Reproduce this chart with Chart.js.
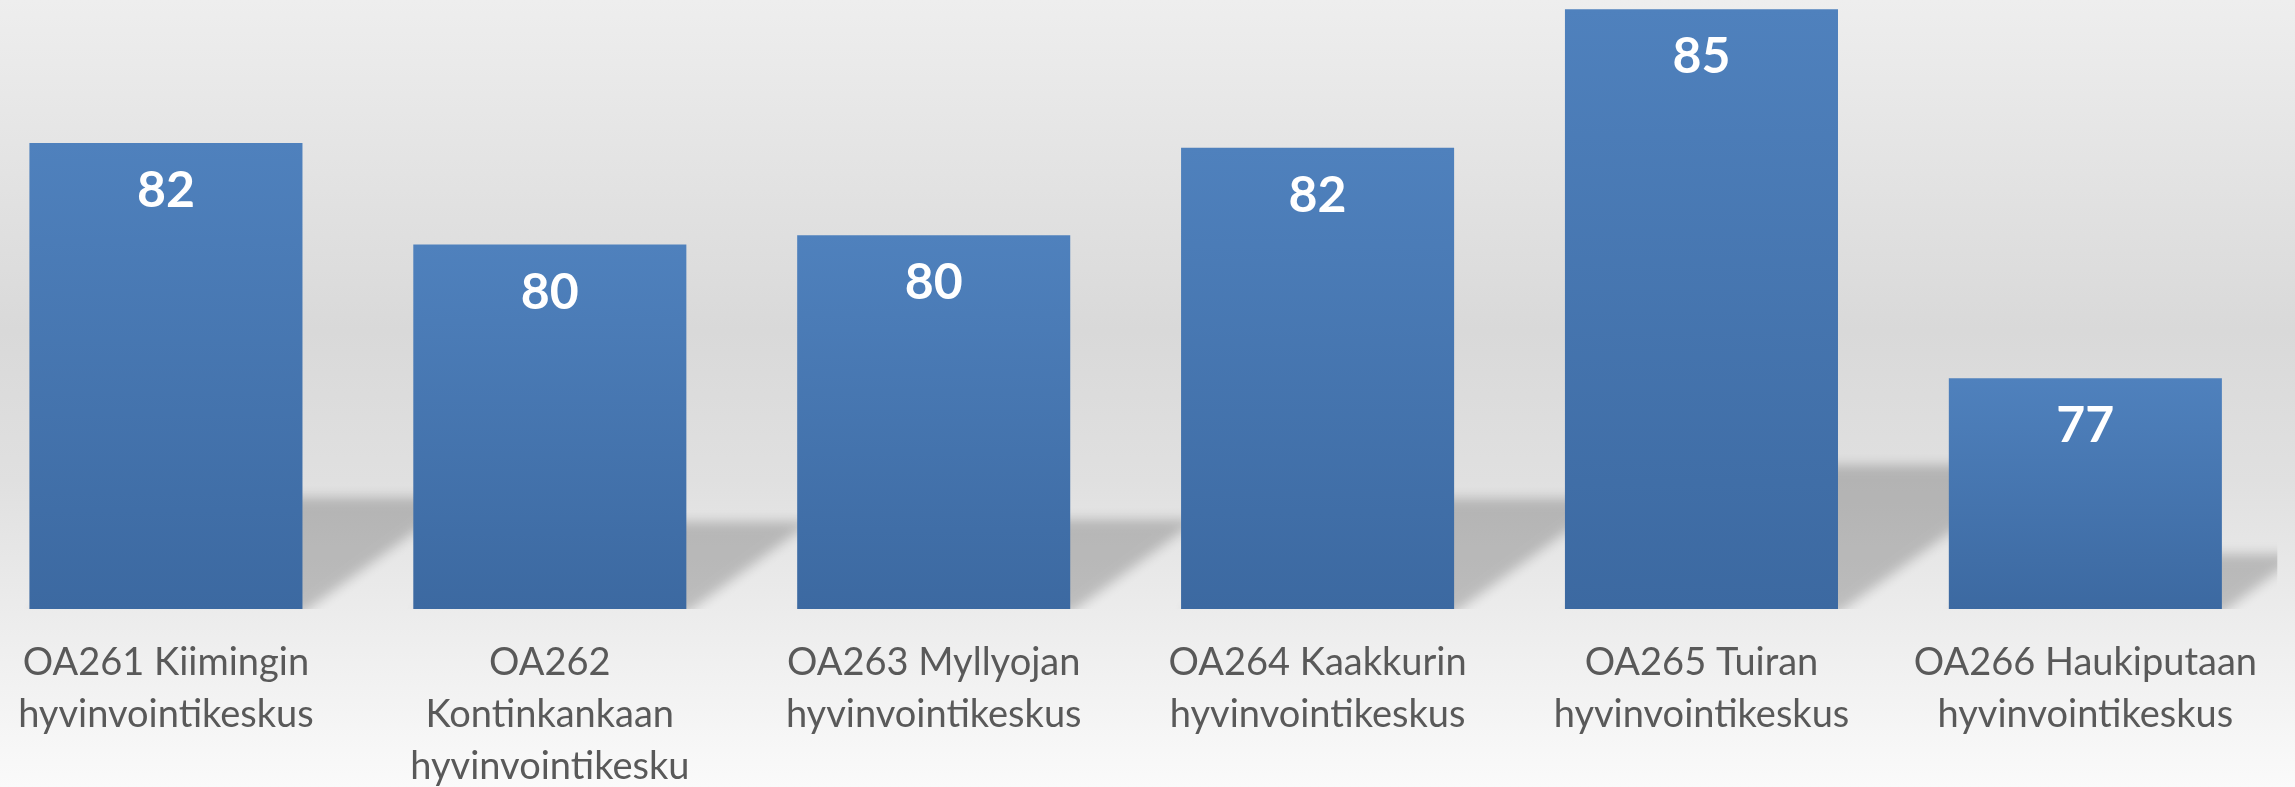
<!DOCTYPE html>
<html>
<head>
<meta charset="utf-8">
<script src="https://cdn.jsdelivr.net/npm/chart.js@4.4.1/dist/chart.umd.min.js"></script>
<style>
  html, body { margin: 0; padding: 0; width: 2295px; height: 787px; overflow: hidden; }
  body {
    position: relative;
    background: linear-gradient(to bottom, #eeeeee 0%, #d9d9d9 42%, #e0e0e0 61%, #ececec 78%, #fafafa 100%);
  }
  #wrap { position: absolute; left: -26px; top: 0; width: 2311px; height: 787px; }
</style>
</head>
<body>
<div id="wrap"><canvas id="scoreChart" width="2311" height="787"></canvas></div>
<script>
// categories (wrapped as in the original)
const categories = [
    ['OA261 Kiimingin', 'hyvinvointikeskus'],
    ['OA262', 'Kontinkankaan', 'hyvinvointikesku'],
    ['OA263 Myllyojan', 'hyvinvointikeskus'],
    ['OA264 Kaakkurin', 'hyvinvointikeskus'],
    ['OA265 Tuiran', 'hyvinvointikeskus'],
    ['OA266 Haukiputaan', 'hyvinvointikeskus']
];
const scores = [82.1, 79.9, 80.1, 82.0, 85.0, 77.0];
const axisMin = 72;
const axisMax = 85.2;

const textGrey = '#595959';

// soft shadow cast behind each bar, towards the upper right
// (drawn through the canvas shadow so the edges get blurred)
const barShadow = {
    id: 'barShadow',
    beforeDatasetsDraw(chart) {
        const ctx = chart.ctx;
        const area = chart.chartArea;
        const meta = chart.getDatasetMeta(0);
        const bottom = chart.scales.y.getPixelForValue(axisMin);
        const shift = 5000;
        ctx.save();
        ctx.beginPath();
        ctx.rect(area.left, area.top, area.right - area.left, area.bottom - area.top);
        ctx.clip();
        ctx.shadowColor = 'rgba(0, 0, 0, 0.2)';
        ctx.shadowBlur = 12;
        ctx.shadowOffsetX = shift;
        ctx.shadowOffsetY = 0;
        ctx.fillStyle = '#000';
        meta.data.forEach(bar => {
            const h = bottom - bar.y;
            const sh = h * 0.24;
            const dx = sh / 0.7;
            const left = bar.x - bar.width / 2 - shift;
            const right = bar.x + bar.width / 2 - shift;
            ctx.beginPath();
            ctx.moveTo(left, bottom + 4);
            ctx.lineTo(right, bottom + 4);
            ctx.lineTo(right + dx, bottom - sh);
            ctx.lineTo(left + dx, bottom - sh);
            ctx.closePath();
            ctx.fill();
        });
        ctx.restore();
    }
};

// white value labels inside the top of each bar
const valueLabels = {
    id: 'valueLabels',
    afterDatasetsDraw(chart) {
        const ctx = chart.ctx;
        const meta = chart.getDatasetMeta(0);
        ctx.save();
        ctx.fillStyle = '#ffffff';
        ctx.font = 'bold 50px Lato';
        ctx.textAlign = 'center';
        ctx.textBaseline = 'middle';
        meta.data.forEach((bar, i) => {
            ctx.fillText(scores[i].toFixed(0), bar.x, bar.y + 48);
        });
        ctx.restore();
    }
};

new Chart(document.getElementById('scoreChart'), {
    type: 'bar',
    data: {
        labels: categories,
        datasets: [
            {
                data: scores,
                backgroundColor: function(context) {
                    const chart = context.chart;
                    if (!chart.chartArea) return '#4676b2';
                    const yScale = chart.scales.y;
                    const top = yScale.getPixelForValue(context.raw);
                    const bottom = yScale.getPixelForValue(axisMin);
                    const g = chart.ctx.createLinearGradient(0, top, 0, bottom);
                    g.addColorStop(0, '#4f81bd');
                    g.addColorStop(1, '#3c69a1');
                    return g;
                },
                borderWidth: 0,
                barPercentage: 0.7113,
                categoryPercentage: 1
            }
        ]
    },
    options: {
        responsive: false,
        animation: false,
        layout: { padding: 0 },
        plugins: {
            legend: { display: false },
            tooltip: { enabled: false }
        },
        scales: {
            y: {
                display: false,
                min: axisMin,
                max: axisMax
            },
            x: {
                grid: { display: false, drawTicks: false },
                border: { display: false },
                ticks: {
                    color: textGrey,
                    font: { family: 'Lato', size: 38, lineHeight: 1.37 },
                    padding: 28,
                    autoSkip: false,
                    maxRotation: 0
                },
                afterFit(scale) { scale.height = 178; }
            }
        }
    },
    plugins: [barShadow, valueLabels]
});
</script>
</body>
</html>
